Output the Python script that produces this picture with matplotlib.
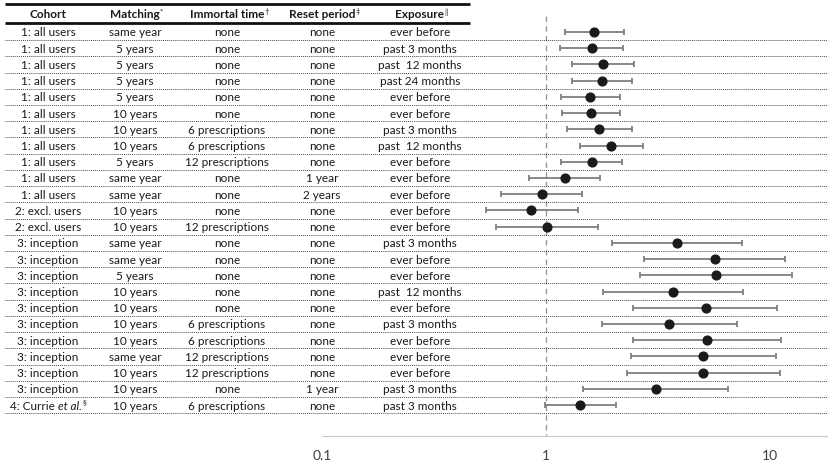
import numpy as np
import matplotlib
matplotlib.use("Agg")
import matplotlib.pyplot as plt
from matplotlib.transforms import blended_transform_factory

plt.rcParams['font.family'] = ['Lato', 'DejaVu Sans']

# table columns
cohort = ["1: all users"] * 11 + ["2: excl. users"] * 2 + ["3: inception"] * 10 + ["4: Currie"]
matching = ["same year", "5 years", "5 years", "5 years", "5 years", "10 years", "10 years", "10 years",
            "5 years", "same year", "same year", "10 years", "10 years", "same year", "same year", "5 years",
            "10 years", "10 years", "10 years", "10 years", "same year", "10 years", "10 years", "10 years"]
immortal = ["none", "none", "none", "none", "none", "none", "6 prescriptions", "6 prescriptions",
            "12 prescriptions", "none", "none", "none", "12 prescriptions", "none", "none", "none",
            "none", "none", "6 prescriptions", "6 prescriptions", "12 prescriptions", "12 prescriptions",
            "none", "6 prescriptions"]
reset = ["none"] * 9 + ["1 year", "2 years"] + ["none"] * 11 + ["1 year", "none"]
exposure = ["ever before", "past 3 months", "past  12 months", "past 24 months", "ever before", "ever before",
            "past 3 months", "past  12 months", "ever before", "ever before", "ever before", "ever before",
            "ever before", "past 3 months", "ever before", "ever before", "past  12 months", "ever before",
            "past 3 months", "ever before", "ever before", "ever before", "past 3 months", "past 3 months"]

# hazard ratios with 95% CI
hr = np.array([1.64, 1.60, 1.80, 1.77, 1.58, 1.59, 1.73, 1.95, 1.60, 1.21, 0.96, 0.86, 1.01,
               3.83, 5.66, 5.72, 3.70, 5.16, 3.55, 5.25, 5.04, 5.04, 3.09, 1.42])
ci_low = np.array([1.21, 1.16, 1.31, 1.30, 1.17, 1.18, 1.24, 1.42, 1.17, 0.84, 0.63, 0.54, 0.60,
                   1.97, 2.73, 2.62, 1.80, 2.44, 1.77, 2.45, 2.40, 2.30, 1.46, 0.99])
ci_high = np.array([2.23, 2.21, 2.47, 2.41, 2.13, 2.15, 2.41, 2.70, 2.19, 1.74, 1.45, 1.39, 1.71,
                    7.47, 11.7, 12.5, 7.60, 10.8, 7.10, 11.2, 10.6, 11.1, 6.52, 2.05])

headers = ["Cohort", "Matching", "Immortal time", "Reset period", "Exposure"]
header_marks = ["", "*", "\u2020", "\u2021", "\u2016"]

W, H = 829, 464
fig = plt.figure(figsize=(W / 100, H / 100), dpi=100)

def fx(x):
    return x / W

# forest panel
ax_top, ax_bottom = 5, 437
ax = fig.add_axes([fx(322), 1 - ax_bottom / H, fx(829 - 322), (ax_bottom - ax_top) / H])
ax.set_xscale('log')
ax.set_xlim(0.1, 10 ** ((829 - 546) / 224))
row0, step = 33, 16.22
ax.set_ylim((ax_bottom - row0) / step, (ax_top - row0) / step)

def row_of(ypix):
    return (ypix - row0) / step

rows = np.arange(len(hr))
ax.plot([1, 1], [row_of(17), row_of(ax_bottom)], color='#9a9a9a', lw=1, dashes=(4, 3), clip_on=False)
ax.errorbar(hr, rows, xerr=[hr - ci_low, ci_high - hr], fmt='o', color='#1a1a1a', ms=6.3,
            ecolor='#7f7f7f', elinewidth=1.3, capsize=2.3, capthick=1.3, zorder=3)

for s in ['top', 'right', 'left']:
    ax.spines[s].set_visible(False)
ax.spines['bottom'].set_color('#c8c8c8')
ax.set_yticks([])
ax.set_xticks([0.1, 1, 10])
ax.set_xticklabels(['0.1', '1', '10'])
ax.minorticks_off()
ax.tick_params(axis='x', length=0, pad=9.5, labelsize=10, labelcolor='#404040')

# table
tr = blended_transform_factory(fig.transFigure, ax.transData)
col_x = [48, 135, 227, 322, 420]
text_kw = dict(ha='center', va='center', fontsize=8.5, color='#1a1a1a', transform=tr)

for i in rows:
    if i < len(rows) - 1:
        ax.text(fx(col_x[0]), i, cohort[i], **text_kw)
    ax.text(fx(col_x[1]), i, matching[i], **text_kw)
    ax.text(fx(col_x[2]), i, immortal[i], **text_kw)
    ax.text(fx(col_x[3]), i, reset[i], **text_kw)
    ax.text(fx(col_x[4]), i, exposure[i], **text_kw)
    ax.plot([fx(5), fx(829)], [i + 0.5, i + 0.5], transform=tr, color='#4d4d4d', lw=0.7,
            ls=(0, (1, 1)), clip_on=False)

for y in [ax_top, 24]:
    ax.plot([fx(5), fx(470)], [row_of(y)] * 2, transform=tr, color='#111111', lw=2, clip_on=False,
            solid_capstyle='butt')

renderer = fig.canvas.get_renderer()
hy = row_of(15)
for x, name, mark in zip(col_x, headers, header_marks):
    t = ax.text(fx(x), hy, name, ha='center', va='center', fontsize=8.5, fontweight='bold',
                color='#1a1a1a', transform=tr)
    if mark:
        bb = t.get_window_extent(renderer)
        ax.text(bb.x1 / W, hy - 0.2, mark, ha='left', va='center', fontsize=5.5,
                color='#1a1a1a', transform=tr)

# last cohort label with italic part and footnote mark
last = len(rows) - 1
parts = [("4: Currie ", 'normal', 8.5), ("et al.", 'italic', 8.5)]
widths = []
for s, style, size in parts:
    t = fig.text(0, 0, s, fontsize=size, style=style)
    widths.append(t.get_window_extent(renderer).width)
    t.remove()
mark_t = fig.text(0, 0, "\u00a7", fontsize=5.5)
mark_w = mark_t.get_window_extent(renderer).width
mark_t.remove()
x0 = col_x[0] - (sum(widths) + mark_w + 1) / 2
for (s, style, size), w in zip(parts, widths):
    ax.text(fx(x0), last, s, ha='left', va='center', fontsize=size, style=style,
            color='#1a1a1a', transform=tr)
    x0 += w
ax.text(fx(x0 + 1), last - 0.2, "\u00a7", ha='left', va='center', fontsize=5.5,
        color='#1a1a1a', transform=tr)

fig.savefig('out.png', dpi=100)
